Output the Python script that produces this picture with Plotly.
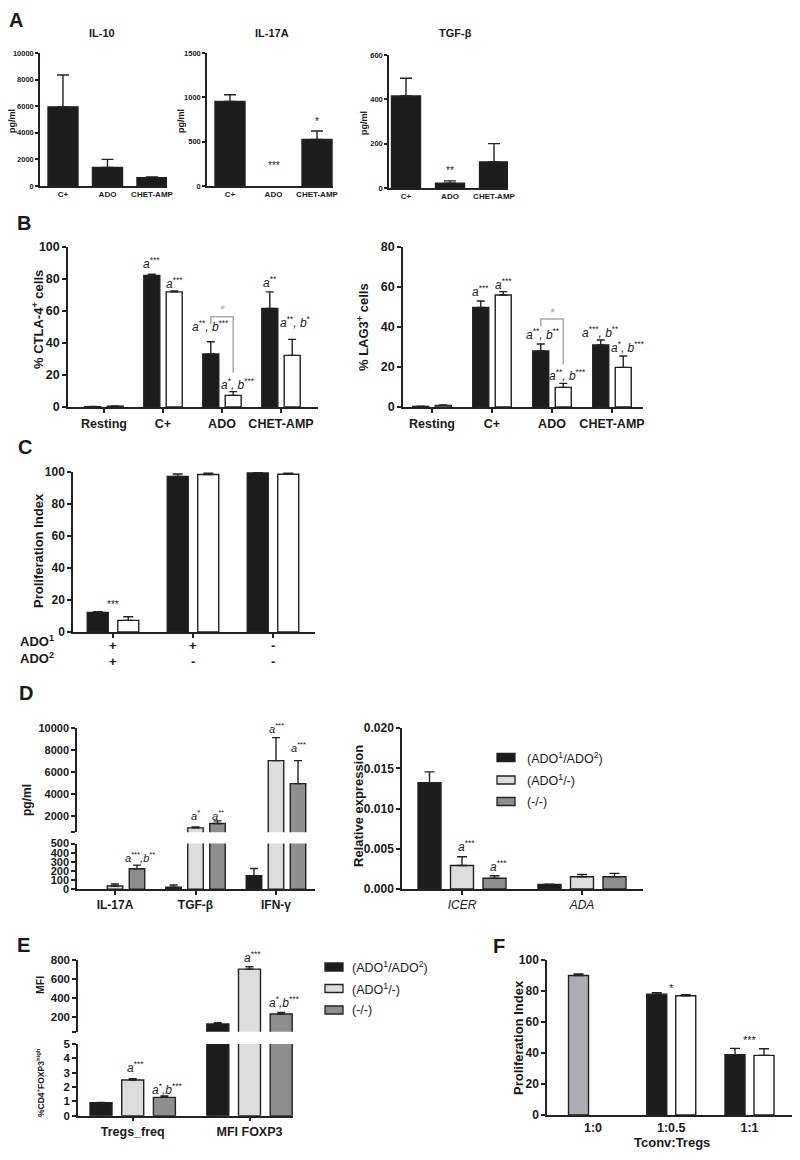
import plotly.graph_objects as go

# The page body adds an 8 px margin; the figure is sized to fill the
# remaining window, and reference pixel positions are converted accordingly.
PAGE_OFF = 8
W, H = 800 - PAGE_OFF, 1160 - PAGE_OFF
FONT = "Liberation Sans, Arial, Helvetica, sans-serif"
INK = "#222222"
TXT = "#1a1a1a"
C_BLACK = "#1c1c1c"
C_WHITE = "#ffffff"
C_LIGHT = "#dcdcdc"
C_DARK = "#8e8e8e"
C_CTRL = "#acacb2"
C_BRACKET = "#a9a9a9"

# ===================== DATA =====================
# Panel A (pg/ml)
a_cats = ["C+", "ADO", "CHET-AMP"]
a_il10 = [5950, 1400, 630]
a_il10_err = [2400, 600, 50]
a_il17a = [955, None, 525]
a_il17a_err = [75, 0, 95]
a_tgfb = [415, 22, 118]
a_tgfb_err = [80, 10, 82]
a_il10_ticks = [0, 2000, 4000, 6000, 8000, 10000]
a_il17a_ticks = [0, 500, 1000, 1500]
a_tgfb_ticks = [0, 200, 400, 600]

# Panel B (% positive cells)
b_cats = ["Resting", "C+", "ADO", "CHET-AMP"]
b_ctla4_black = [0.2, 82.3, 33.1, 61.7]
b_ctla4_black_err = [0.1, 0.7, 7.7, 10.3]
b_ctla4_white = [0.5, 72.0, 7.3, 32.3]
b_ctla4_white_err = [0.2, 0.6, 2.3, 10.0]
b_lag3_black = [0.3, 49.8, 28.0, 31.0]
b_lag3_black_err = [0.1, 3.2, 3.5, 2.5]
b_lag3_white = [0.8, 56.0, 9.8, 19.8]
b_lag3_white_err = [0.2, 1.7, 2.0, 5.7]

# Panel C (Proliferation index)
c_ado1 = ["+", "+", "-"]
c_ado2 = ["+", "-", "-"]
c_black = [12.3, 97.2, 99.5]
c_black_err = [0.4, 1.6, 0.2]
c_white = [7.3, 98.5, 98.6]
c_white_err = [2.2, 0.8, 0.7]

# Panel D left (pg/ml)
d_cyto_cats = ["IL-17A", "TGF-β", "IFN-γ"]
d_cyto_ado12 = [None, 22, 148]
d_cyto_ado12_err = [0, 25, 80]
d_cyto_ado1 = [36, 900, 7050]
d_cyto_ado1_err = [22, 94, 2100]
d_cyto_none = [224, 1305, 4950]
d_cyto_none_err = [40, 238, 2100]

# Panel D right (relative expression)
d_gene_cats = ["ICER", "ADA"]
d_gene_ado12 = [0.0132, 0.00058]
d_gene_ado12_err = [0.00136, 0.00003]
d_gene_ado1 = [0.00293, 0.00153]
d_gene_ado1_err = [0.00107, 0.00028]
d_gene_none = [0.00133, 0.00153]
d_gene_none_err = [0.00031, 0.00041]

# Panel E (Tregs_freq in %CD4+FOXP3high, MFI FOXP3 in MFI)
e_cats = ["Tregs_freq", "MFI FOXP3"]
e_ado12 = [0.9, 130]
e_ado12_err = [0.02, 13]
e_ado1 = [2.49, 705]
e_ado1_err = [0.1, 25]
e_none = [1.28, 235]
e_none_err = [0.1, 17]

# Panel F (Proliferation index)
f_cats = ["1:0", "1:0.5", "1:1"]
f_ctrl = [90.0, None, None]
f_ctrl_err = [1.0, 0, 0]
f_black = [None, 78.0, 39.0]
f_black_err = [0, 1.0, 4.0]
f_white = [None, 77.0, 38.5]
f_white_err = [0, 0.6, 4.3]

legend_labels = ["(ADO<sup>1</sup>/ADO<sup>2</sup>)", "(ADO<sup>1</sup>/-)", "(-/-)"]

# ===================== LAYOUT GEOMETRY (pixels) =====================
GEO = {
    "A1": dict(x0=40, x1=167, c0=63, s=44.5, bw=30, off=0, cap=6),
    "A2": dict(x0=207, x1=333, c0=230, s=43.5, bw=30, off=0, cap=6),
    "A3": dict(x0=389, x1=508, c0=406, s=44, bw=29, off=0, cap=6),
    "B1": dict(x0=68, x1=318, c0=104, s=59, bw=16, off=11.2, cap=4),
    "B2": dict(x0=403, x1=643, c0=432, s=60, bw=16, off=11.25, cap=4),
    "C": dict(x0=73, x1=315, c0=113, s=80, bw=21, off=15.25, cap=5),
    "D1": dict(x0=77, x1=315, c0=115, s=80.5, bw=15.5, off=22, cap=4),
    "D2": dict(x0=402, x1=643, c0=462, s=120, bw=23, off=32.5, cap=5),
    "E": dict(x0=78, x1=293, c0=132.7, s=116.8, bw=22, off=31.7, cap=4),
    "F": dict(x0=547, x1=792, c0=593, s=78.25, bw=20, off=14.5, cap=5),
}


def px2x(p):
    return (p - PAGE_OFF) / W


def px2y(p):
    return 1 - (p - PAGE_OFF) / H


fig = go.Figure()
axes = {}
annos = []
shapes = []

LINE = dict(showline=True, linecolor=INK, linewidth=1.5, showgrid=False,
            zeroline=False, tickcolor=INK, tickwidth=1.5, ticklen=4,
            automargin=False, fixedrange=True)


def akey(kind, i):
    return kind if i == 1 else f"{kind}{i}"


def xaxis(i, g, anchor, ticktext, font, ticks=True, labels=True):
    geo = GEO[g]
    axes[akey("xaxis", i)] = dict(
        LINE, domain=[px2x(geo["x0"]), min(1, px2x(geo["x1"]))], anchor=anchor,
        range=[(geo["x0"] - geo["c0"]) / geo["s"], (geo["x1"] - geo["c0"]) / geo["s"]],
        tickmode="array", tickvals=list(range(len(ticktext))), ticktext=ticktext,
        ticks="outside" if ticks else "", tickfont=font, showticklabels=labels)


def yaxis(i, top, bot, anchor, rng, tickvals, font, ticktext=None, fmt=None, ticklen=4):
    d = dict(LINE, domain=[px2y(bot), px2y(top)], anchor=anchor, range=rng,
             tickmode="array", tickvals=tickvals, ticks="outside", tickfont=font,
             ticklen=ticklen)
    d["ticktext"] = ticktext if ticktext is not None else [
        (format(v, fmt) if fmt else str(v)) for v in tickvals]
    axes[akey("yaxis", i)] = d


def bold(size, family=FONT):
    return dict(family=family, size=size, color=TXT, weight=700)


def bars(xa, ya, g, vals, errs, color, slot):
    geo = GEO[g]
    xs = [i + slot * geo["off"] / geo["s"] for i in range(len(vals))]
    fig.add_trace(go.Bar(
        x=xs, y=vals, width=geo["bw"] / geo["s"], xaxis=xa, yaxis=ya,
        marker=dict(color=color, line=dict(color=INK, width=1.4)),
        error_y=dict(type="data", symmetric=False, array=errs,
                     arrayminus=[0] * len(vals), color=INK, thickness=1.4,
                     width=geo["cap"]),
        showlegend=False, hoverinfo="skip"))


def bar_x(g, i, slot):
    geo = GEO[g]
    return i + slot * geo["off"] / geo["s"]


def label(xa, ya, x, y, text, dy, dx=0, size=12, color=TXT):
    annos.append(dict(xref=xa, yref=ya, x=x, y=y, text=text, showarrow=False,
                      xanchor="center", yanchor="middle", xshift=dx, yshift=dy,
                      font=dict(family=FONT, size=size, color=color)))


def ptext(x, y, text, size, weight=700, angle=0, xanchor="center", color=TXT):
    annos.append(dict(xref="paper", yref="paper", x=px2x(x), y=px2y(y), text=text,
                      showarrow=False, xanchor=xanchor, yanchor="middle", textangle=angle,
                      font=dict(family=FONT, size=size, color=color, weight=weight)))


def A_(s):
    return f"<i>a</i><sup>{s}</sup>"


def AB(s1, s2, sep=", "):
    return f"<i>a</i><sup>{s1}</sup><i>{sep}b</i><sup>{s2}</sup>"


def tops(v, e):
    return [(a or 0) + (b or 0) for a, b in zip(v, e)]


# ---------------- Panel A ----------------
fa = bold(7.5)
xaxis(1, "A1", "y", a_cats, bold(8), ticks=False)
yaxis(1, 53, 186, "x", [0, 10000.5], a_il10_ticks, fa, ticklen=3)
bars("x", "y", "A1", a_il10, a_il10_err, C_BLACK, 0)

xaxis(2, "A2", "y2", a_cats, bold(8), ticks=False)
yaxis(2, 53, 186, "x2", [0, 1500.1], a_il17a_ticks, fa, ticklen=3)
bars("x2", "y2", "A2", a_il17a, a_il17a_err, C_BLACK, 0)

xaxis(3, "A3", "y3", a_cats, bold(8), ticks=False)
yaxis(3, 55, 188, "x3", [0, 600.05], a_tgfb_ticks, fa, ticklen=3)
bars("x3", "y3", "A3", a_tgfb, a_tgfb_err, C_BLACK, 0)

t = tops(a_il17a, a_il17a_err)
label("x2", "y2", 1, t[1], "***", 21, size=10)
label("x2", "y2", 2, t[2], "*", 10, size=10)
t = tops(a_tgfb, a_tgfb_err)
label("x3", "y3", 1, t[1], "**", 10, size=10)

ptext(102, 33, "IL-10", 11)
ptext(272, 33, "IL-17A", 11)
ptext(455, 33, "TGF-β", 11)
for xx, yy in [(12, 121), (181, 121), (364, 123)]:
    ptext(xx, yy, "pg/ml", 9, angle=-90)

# ---------------- Panel B ----------------
fb = bold(12.5)
xaxis(4, "B1", "y4", b_cats, fb)
yaxis(4, 247, 407, "x4", [0, 100.05], [0, 20, 40, 60, 80, 100], fb)
bars("x4", "y4", "B1", b_ctla4_black, b_ctla4_black_err, C_BLACK, -1)
bars("x4", "y4", "B1", b_ctla4_white, b_ctla4_white_err, C_WHITE, 1)

xaxis(5, "B2", "y5", b_cats, fb)
yaxis(5, 247, 407, "x5", [0, 80.05], [0, 20, 40, 60, 80], fb)
bars("x5", "y5", "B2", b_lag3_black, b_lag3_black_err, C_BLACK, -1)
bars("x5", "y5", "B2", b_lag3_white, b_lag3_white_err, C_WHITE, 1)

tb = tops(b_ctla4_black, b_ctla4_black_err)
tw = tops(b_ctla4_white, b_ctla4_white_err)
label("x4", "y4", bar_x("B1", 1, -1), tb[1], A_("***"), 11)
label("x4", "y4", bar_x("B1", 1, 1), tw[1], A_("***"), 8)
label("x4", "y4", bar_x("B1", 2, -1), tb[2], AB("**", "***"), 16)
label("x4", "y4", bar_x("B1", 2, 1), tw[2], AB("*", "***"), 8, dx=5)
label("x4", "y4", bar_x("B1", 3, -1), tb[3], A_("**"), 10)
label("x4", "y4", bar_x("B1", 3, 1), tw[3], AB("**", "*"), 17, dx=3)

upp_b1 = 100 / 160
xl, xr = bar_x("B1", 2, -1), bar_x("B1", 2, 1)
ytop = tb[2] + 25 * upp_b1
shapes.append(dict(type="path", xref="x4", yref="y4",
                   path=f"M {xl},{tb[2] + 17.5 * upp_b1} L {xl},{ytop} L {xr},{ytop} L {xr},{tw[2] + 19 * upp_b1}",
                   line=dict(color=C_BRACKET, width=1.5)))
label("x4", "y4", (xl + xr) / 2, ytop, "*", 7, size=13, color=C_BRACKET)

tb = tops(b_lag3_black, b_lag3_black_err)
tw = tops(b_lag3_white, b_lag3_white_err)
label("x5", "y5", bar_x("B2", 1, -1), tb[1], A_("***"), 10)
label("x5", "y5", bar_x("B2", 1, 1), tw[1], A_("***"), 8)
label("x5", "y5", bar_x("B2", 2, -1), tb[2], AB("**", "**"), 10, dx=2)
label("x5", "y5", bar_x("B2", 2, 1), tw[2], AB("**", "***"), 8, dx=4)
label("x5", "y5", bar_x("B2", 3, -1), tb[3], AB("***", "**"), 8)
label("x5", "y5", bar_x("B2", 3, 1), tw[3], AB("*", "***"), 9, dx=5)

upp_b2 = 80 / 160
xl, xr = bar_x("B2", 2, -1), bar_x("B2", 2, 1)
ytop = tb[2] + 25 * upp_b2
shapes.append(dict(type="path", xref="x5", yref="y5",
                   path=f"M {xl},{tb[2] + 17.5 * upp_b2} L {xl},{ytop} L {xr},{ytop} L {xr},{tw[2] + 19 * upp_b2}",
                   line=dict(color=C_BRACKET, width=1.5)))
label("x5", "y5", (xl + xr) / 2, ytop, "*", 7, size=13, color=C_BRACKET)

ptext(38, 320, "% CTLA-4<sup>+</sup> cells", 13, angle=-90)
ptext(363, 327, "% LAG3<sup>+</sup> cells", 13, angle=-90)

# ---------------- Panel C ----------------
fc = bold(12)
xaxis(6, "C", "y6", ["+", "+", "-"], bold(13), labels=False)
yaxis(6, 472, 632, "x6", [0, 100.05], [0, 20, 40, 60, 80, 100], fc)
bars("x6", "y6", "C", c_black, c_black_err, C_BLACK, -1)
bars("x6", "y6", "C", c_white, c_white_err, C_WHITE, 1)
t = tops(c_black, c_black_err)
label("x6", "y6", 0, t[0], "***", 7, size=10)
for i, (p, q) in enumerate(zip(c_ado1, c_ado2)):
    for sym, yy in [(p, 645), (q, 661)]:
        annos.append(dict(xref="x6", yref="paper", x=i, y=px2y(yy), text=sym,
                          showarrow=False, xanchor="center", yanchor="middle",
                          font=bold(13)))
ptext(38, 551, "Proliferation Index", 13, angle=-90)
ptext(18, 641, "ADO<sup>1</sup>", 13, xanchor="left")
ptext(18, 658, "ADO<sup>2</sup>", 13, xanchor="left")

# ---------------- Panel D left (broken axis) ----------------
fd = bold(11)
xaxis(7, "D1", "y7", d_cyto_cats, bold(12))
yaxis(7, 843.5, 889.3, "x7", [0, 500.5], [0, 100, 200, 300, 400, 500], fd)
yaxis(8, 728.3, 832.3, "x7", [500, 10000.5], [500, 2000, 4000, 6000, 8000, 10000], fd,
      ticktext=["", "2000", "4000", "6000", "8000", "10000"])
for ya in ["y7", "y8"]:
    bars("x7", ya, "D1", d_cyto_ado12, d_cyto_ado12_err, C_BLACK, -1)
    bars("x7", ya, "D1", d_cyto_ado1, d_cyto_ado1_err, C_LIGHT, 0)
    bars("x7", ya, "D1", d_cyto_none, d_cyto_none_err, C_DARK, 1)
t1 = tops(d_cyto_ado1, d_cyto_ado1_err)
t2 = tops(d_cyto_none, d_cyto_none_err)
label("x7", "y7", bar_x("D1", 0, 1), t2[0], AB("***", "**", ","), 8, dx=3, size=11)
label("x7", "y8", bar_x("D1", 1, 0), t1[1], A_("*"), 12, size=11)
label("x7", "y8", bar_x("D1", 1, 1), t2[1], A_("**"), 6, size=11)
label("x7", "y8", bar_x("D1", 2, 0), t1[2], A_("***"), 10, size=11)
label("x7", "y8", bar_x("D1", 2, 1), t2[2], A_("***"), 14, size=11)
ptext(27, 800, "pg/ml", 12, angle=-90)

# ---------------- Panel D right ----------------
xaxis(8, "D2", "y9", [f"<i>{c}</i>" for c in d_gene_cats],
      dict(family=FONT, size=12, color=TXT, weight=400))
yaxis(9, 728, 889, "x8", [0, 0.02001], [0, 0.005, 0.01, 0.015, 0.02], bold(12), fmt=".3f")
bars("x8", "y9", "D2", d_gene_ado12, d_gene_ado12_err, C_BLACK, -1)
bars("x8", "y9", "D2", d_gene_ado1, d_gene_ado1_err, C_LIGHT, 0)
bars("x8", "y9", "D2", d_gene_none, d_gene_none_err, C_DARK, 1)
t1 = tops(d_gene_ado1, d_gene_ado1_err)
t2 = tops(d_gene_none, d_gene_none_err)
label("x8", "y9", bar_x("D2", 0, 0), t1[0], A_("***"), 11, dx=4)
label("x8", "y9", bar_x("D2", 0, 1), t2[0], A_("***"), 10, dx=4)
ptext(358, 806, "Relative expression", 13, angle=-90)

# ---------------- Panel E (broken axis) ----------------
fe = bold(11.5)
xaxis(9, "E", "y10", e_cats, bold(12.5))
yaxis(10, 1044, 1115.7, "x9", [0, 5.005], [0, 1, 2, 3, 4, 5], fe)
yaxis(11, 960, 1031.7, "x9", [50, 800.5], [50, 200, 400, 600, 800], fe,
      ticktext=["", "200", "400", "600", "800"])
for ya in ["y10", "y11"]:
    bars("x9", ya, "E", e_ado12, e_ado12_err, C_BLACK, -1)
    bars("x9", ya, "E", e_ado1, e_ado1_err, C_LIGHT, 0)
    bars("x9", ya, "E", e_none, e_none_err, C_DARK, 1)
t1 = tops(e_ado1, e_ado1_err)
t2 = tops(e_none, e_none_err)
label("x9", "y10", bar_x("E", 0, 0), t1[0], A_("***"), 12, dx=3)
label("x9", "y10", bar_x("E", 0, 1), t2[0], AB("*", "***", ","), 7, dx=3)
label("x9", "y11", bar_x("E", 1, 0), t1[1], A_("***"), 10, dx=3)
label("x9", "y11", bar_x("E", 1, 1), t2[1], AB("*", "***", ","), 10, dx=3)
ptext(40, 985, "MFI", 10.5, angle=-90)
ptext(40, 1083, "%CD4<sup>+</sup>FOXP3<sup>high</sup>", 8.5, angle=-90)

# ---------------- Panel F ----------------
ff = bold(12)
xaxis(10, "F", "y12", f_cats, bold(12.5), ticks=False)
yaxis(12, 960, 1115, "x10", [0, 100.05], [0, 20, 40, 60, 80, 100], ff)
bars("x10", "y12", "F", f_ctrl, f_ctrl_err, C_CTRL, -1)
bars("x10", "y12", "F", f_black, f_black_err, C_BLACK, -1)
bars("x10", "y12", "F", f_white, f_white_err, C_WHITE, 1)
t = tops(f_black, f_black_err)
label("x10", "y12", 1, t[1], "*", 5, size=11)
label("x10", "y12", 2, t[2], "***", 8, size=11)
ptext(518, 1038, "Proliferation Index", 13, angle=-90)
ptext(672, 1142, "Tconv:Tregs", 13)

# ---------------- Legends (drawn) ----------------
leg_colors = [C_BLACK, C_LIGHT, C_DARK]
for (bx, tx, ys) in [(497, 525, [757.5, 780, 801.5]), (325, 350, [967, 988.5, 1010])]:
    for col, yy, lab in zip(leg_colors, ys, legend_labels):
        shapes.append(dict(type="rect", xref="paper", yref="paper",
                           x0=px2x(bx), x1=px2x(bx + 18), y0=px2y(yy + 4), y1=px2y(yy - 4),
                           fillcolor=col, line=dict(color=INK, width=1.3)))
        ptext(tx, yy, lab, 12.5, weight=400, xanchor="left")

# ---------------- Panel letters ----------------
for letter, (lx, ly) in {"A": (16, 20), "B": (24, 223), "C": (25, 447), "D": (26, 693),
                         "E": (23, 945), "F": (499, 946)}.items():
    ptext(lx, ly, letter, 20)

fig.update_layout(
    template="none",
    width=W, height=H, margin=dict(l=0, r=0, t=0, b=0, autoexpand=False),
    paper_bgcolor="white", plot_bgcolor="white",
    barmode="overlay", showlegend=False,
    font=dict(family=FONT, color=TXT),
    annotations=annos, shapes=shapes, **axes)

fig.write_html("out.html")
